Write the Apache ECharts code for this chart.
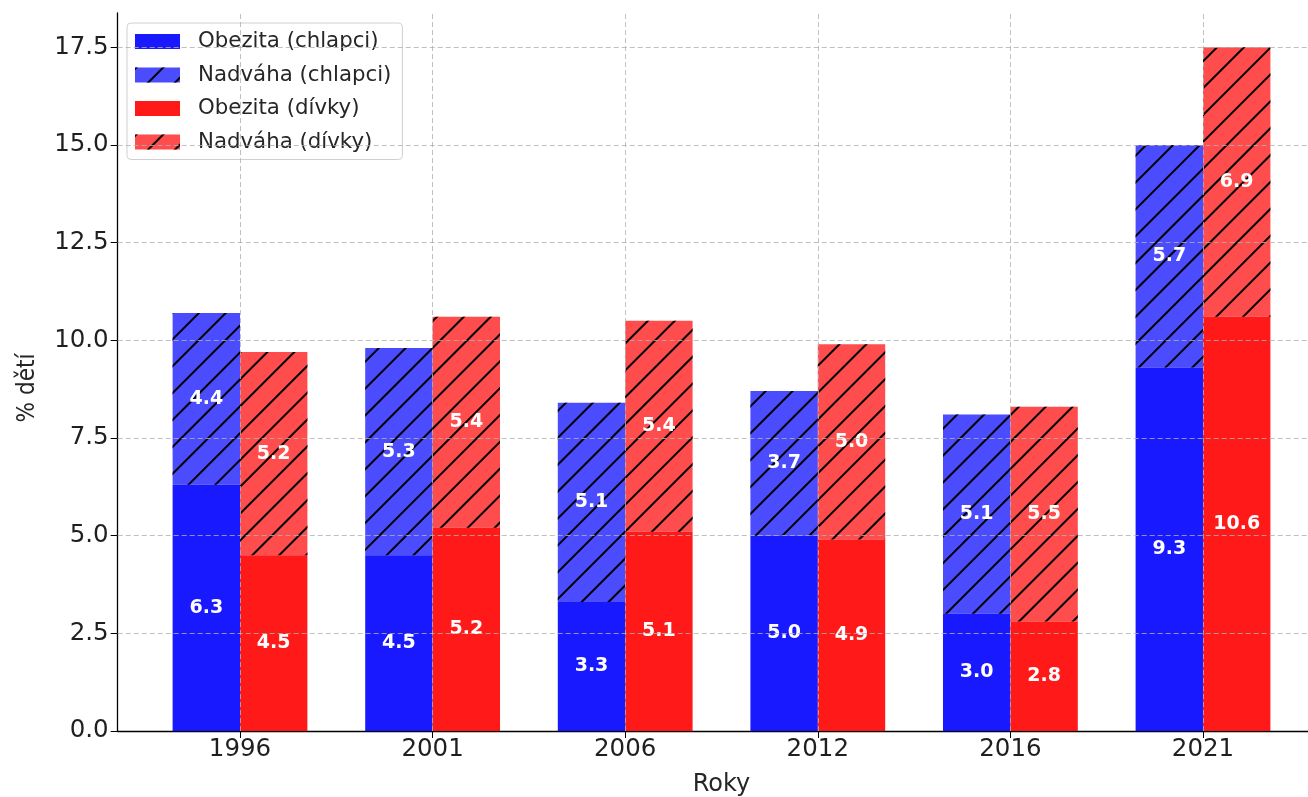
<!DOCTYPE html>
<html>
<head>
<meta charset="utf-8">
<script src="https://cdn.jsdelivr.net/npm/echarts@6/dist/echarts.min.js"></script>
<style>
  html, body { margin: 0; padding: 0; background: #fff; }
  #chart { width: 1308px; height: 797px; }
</style>
</head>
<body>
<div id="chart"></div>
<script>
// data
var years = ['1996', '2001', '2006', '2012', '2016', '2021'];
var boysObese = [6.3, 4.5, 3.3, 5.0, 3.0, 9.3];
var boysOver = [4.4, 5.3, 5.1, 3.7, 5.1, 5.7];
var girlsObese = [4.5, 5.2, 5.1, 4.9, 2.8, 10.6];
var girlsOver = [5.2, 5.4, 5.4, 5.0, 5.5, 6.9];
var yTicks = [0, 2.5, 5, 7.5, 10, 12.5, 15, 17.5];

var font = 'DejaVu Sans';
var myChart = echarts.init(document.getElementById('chart'));

var idx = years.map(function (y, i) { return i; });
var yMax = 18.375;

var hatch = {
	symbol: 'rect',
	symbolSize: 1,
	color: '#000',
	dashArrayX: [1, 0],
	dashArrayY: [2, 17],
	rotation: -Math.PI / 4
};

var labelStyle = {
	show: true,
	position: 'inside',
	color: '#fff',
	fontFamily: font,
	fontWeight: 'bold',
	fontSize: 19,
	formatter: function (p) { return p.value.toFixed(1); }
};

var gridLine = {
	color: '#b0b0b0',
	type: [5, 3],
	width: 1,
	opacity: 0.8
};

function barSeries(name, stack, vals, color, decal) {
	var style = { color: color };
	if (decal) style.decal = decal;
	return {
		name: name,
		type: 'bar',
		stack: stack,
		xAxisIndex: 0,
		yAxisIndex: 0,
		barWidth: 67.4,
		barGap: '0%',
		data: vals,
		itemStyle: style,
		label: labelStyle
	};
}

var option = {
	animation: false,
	grid: [
		// bars: one band per year, 192.6px wide
		{ left: 143.7, width: 1155.6, top: 13, bottom: 66, outerBoundsMode: 'none', containLabel: false },
		// axes and grid lines, matplotlib-like margins
		{ left: 117.7, width: 1207.6, top: 13, bottom: 66, outerBoundsMode: 'none', containLabel: false }
	],
	legend: {
		orient: 'vertical',
		left: 127,
		top: 23,
		padding: [8, 11, 7, 8],
		itemWidth: 45,
		itemHeight: 15,
		itemGap: 12.5,
		icon: 'rect',
		backgroundColor: 'rgba(255,255,255,0.85)',
		borderColor: '#d0d0d0',
		borderWidth: 1,
		borderRadius: 4,
		textStyle: { fontFamily: font, fontSize: 21.3, color: '#262626', padding: [0, 0, 0, 13] },
		data: ['Obezita (chlapci)', 'Nadváha (chlapci)', 'Obezita (dívky)', 'Nadváha (dívky)']
	},
	xAxis: [{
		type: 'category',
		gridIndex: 0,
		data: years,
		show: false
	}, {
		type: 'value',
		gridIndex: 1,
		min: -0.635,
		max: 5.635,
		name: 'Roky',
		nameLocation: 'middle',
		nameGap: 42,
		nameTextStyle: { fontFamily: font, fontSize: 24, color: '#262626' },
		axisLine: { onZero: false, lineStyle: { color: '#000', width: 1.3 } },
		axisTick: { show: true, length: 7, customValues: idx, lineStyle: { color: '#000' } },
		axisLabel: {
			customValues: idx,
			fontFamily: font,
			fontSize: 24.5,
			color: '#1f1f1f',
			margin: 6,
			formatter: function (v) { return years[Math.round(v)]; }
		},
		splitLine: { show: false }
	}],
	yAxis: [{
		type: 'value',
		gridIndex: 0,
		min: 0,
		max: yMax,
		show: false
	}, {
		type: 'value',
		gridIndex: 1,
		min: 0,
		max: yMax,
		name: '% dětí',
		nameLocation: 'middle',
		nameGap: 78,
		nameTextStyle: {
			fontFamily: 'Liberation Sans Narrow, DejaVu Sans Condensed, sans-serif',
			fontSize: 24,
			color: '#262626',
			padding: [0, 32, 0, 0]
		},
		axisLine: { show: true, onZero: false, lineStyle: { color: '#000', width: 1.3 } },
		axisTick: { show: true, length: 7, customValues: yTicks, lineStyle: { color: '#000' } },
		axisLabel: {
			customValues: yTicks,
			fontFamily: font,
			fontSize: 24.5,
			color: '#1f1f1f',
			margin: 9,
			formatter: function (v) { return v.toFixed(1); }
		},
		splitLine: { show: false }
	}],
	series: [
		barSeries('Obezita (chlapci)', 'boys', boysObese, 'rgba(0,0,255,0.9)'),
		barSeries('Nadváha (chlapci)', 'boys', boysOver, 'rgba(0,0,255,0.7)', hatch),
		barSeries('Obezita (dívky)', 'girls', girlsObese, 'rgba(255,0,0,0.9)'),
		barSeries('Nadváha (dívky)', 'girls', girlsOver, 'rgba(255,0,0,0.7)', hatch),
		{
			// dashed grid drawn over the bars
			name: 'grid',
			type: 'line',
			xAxisIndex: 1,
			yAxisIndex: 1,
			data: [],
			z: 5,
			markLine: {
				silent: true,
				symbol: 'none',
				label: { show: false },
				lineStyle: gridLine,
				data: yTicks.slice(1).map(function (t) { return { yAxis: t }; })
					.concat(idx.map(function (i) { return { xAxis: i }; }))
			}
		}
	]
};

myChart.setOption(option);
</script>
</body>
</html>
